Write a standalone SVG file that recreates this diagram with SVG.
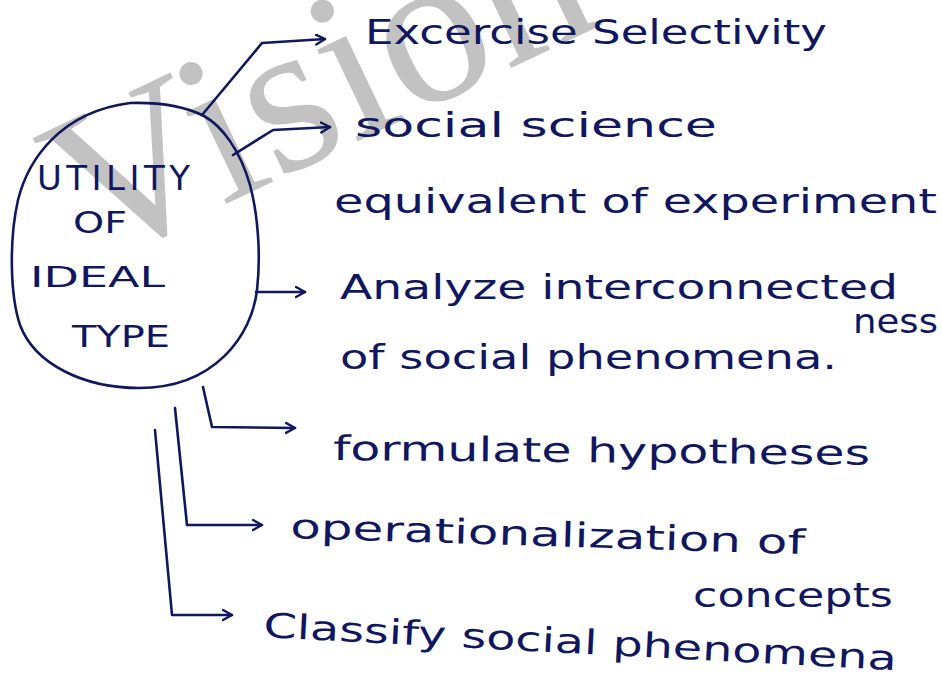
<svg xmlns="http://www.w3.org/2000/svg" width="942" height="682" viewBox="0 0 942 682">
<defs>
<style>
.ink{fill:#11175e;font-family:"DejaVu Sans","Liberation Sans",sans-serif;font-size:34px}
.cap{fill:#11175e;font-family:"DejaVu Sans","Liberation Sans",sans-serif}
.line{fill:none;stroke:#11175e;stroke-width:2.6;stroke-linecap:round;stroke-linejoin:round}
.wm{fill:#c2c2c2;font-family:"Liberation Serif","Times New Roman",serif;font-size:218px}
</style>
<marker id="arr" markerUnits="userSpaceOnUse" markerWidth="14" markerHeight="14" refX="10" refY="6" orient="auto">
<path d="M1,1 L10,6 L1,11" fill="none" stroke="#11175e" stroke-width="2.4" stroke-linecap="round" stroke-linejoin="round"/>
</marker>
</defs>
<rect width="942" height="682" fill="#ffffff"/>
<text class="wm" transform="translate(92,268) rotate(-25.5)">Vision</text>

<g id="node-ideal-type">
<path class="line" d="M130,103 C165,102 188,108 204,116 C222,126 240,150 250,185 C258,215 261,255 257,290 C252,335 215,388 139,388 C85,388 35,365 20,325 C10,295 9,240 18,200 C28,160 60,112 130,103 Z"/>
<text class="cap" x="37" y="190" font-size="34" textLength="153" lengthAdjust="spacing">UTILITY</text>
<text class="cap" x="73" y="233" font-size="31" textLength="54" lengthAdjust="spacingAndGlyphs">OF</text>
<text class="cap" x="30" y="287" font-size="29" textLength="135" lengthAdjust="spacingAndGlyphs">IDEAL</text>
<text class="cap" x="72" y="347" font-size="31" textLength="98" lengthAdjust="spacingAndGlyphs">TYPE</text>
</g>

<g id="connectors">
<path class="line" d="M202,115 L262,43 L325,39" marker-end="url(#arr)"/>
<path class="line" d="M233,155 L273,130 L330,127" marker-end="url(#arr)"/>
<path class="line" d="M256,292 L305,292" marker-end="url(#arr)"/>
<path class="line" d="M203,387 L212,427 L295,428" marker-end="url(#arr)"/>
<path class="line" d="M175,408 L187,525 L262,525" marker-end="url(#arr)"/>
<path class="line" d="M155,430 L172,615 L232,615" marker-end="url(#arr)"/>
</g>

<g id="node-selectivity">
<text class="ink" x="365" y="44" textLength="462" lengthAdjust="spacingAndGlyphs">Excercise Selectivity</text>
</g>
<g id="node-social-science">
<text class="ink" x="355" y="137" textLength="362" lengthAdjust="spacingAndGlyphs">social science</text>
<text class="ink" x="334" y="213" textLength="603" lengthAdjust="spacingAndGlyphs">equivalent of experiment</text>
</g>
<g id="node-interconnectedness">
<text class="ink" x="340" y="299" textLength="558" lengthAdjust="spacingAndGlyphs">Analyze interconnected</text>
<text class="ink" x="853" y="333" font-size="28" textLength="85" lengthAdjust="spacingAndGlyphs">ness</text>
<text class="ink" x="340" y="369" textLength="497" lengthAdjust="spacingAndGlyphs">of social phenomena.</text>
</g>
<g id="node-hypotheses">
<text class="ink" x="333" y="460" textLength="537" lengthAdjust="spacingAndGlyphs" transform="rotate(0.5 333 460)">formulate hypotheses</text>
</g>
<g id="node-operationalization">
<text class="ink" x="290" y="538" textLength="515" lengthAdjust="spacingAndGlyphs" transform="rotate(1.8 290 538)">operationalization of</text>
<text class="ink" x="693" y="607" textLength="200" lengthAdjust="spacingAndGlyphs">concepts</text>
</g>
<g id="node-classify">
<text class="ink" x="263" y="637" textLength="634" lengthAdjust="spacingAndGlyphs" transform="rotate(3 263 637)">Classify social phenomena</text>
</g>
</svg>
